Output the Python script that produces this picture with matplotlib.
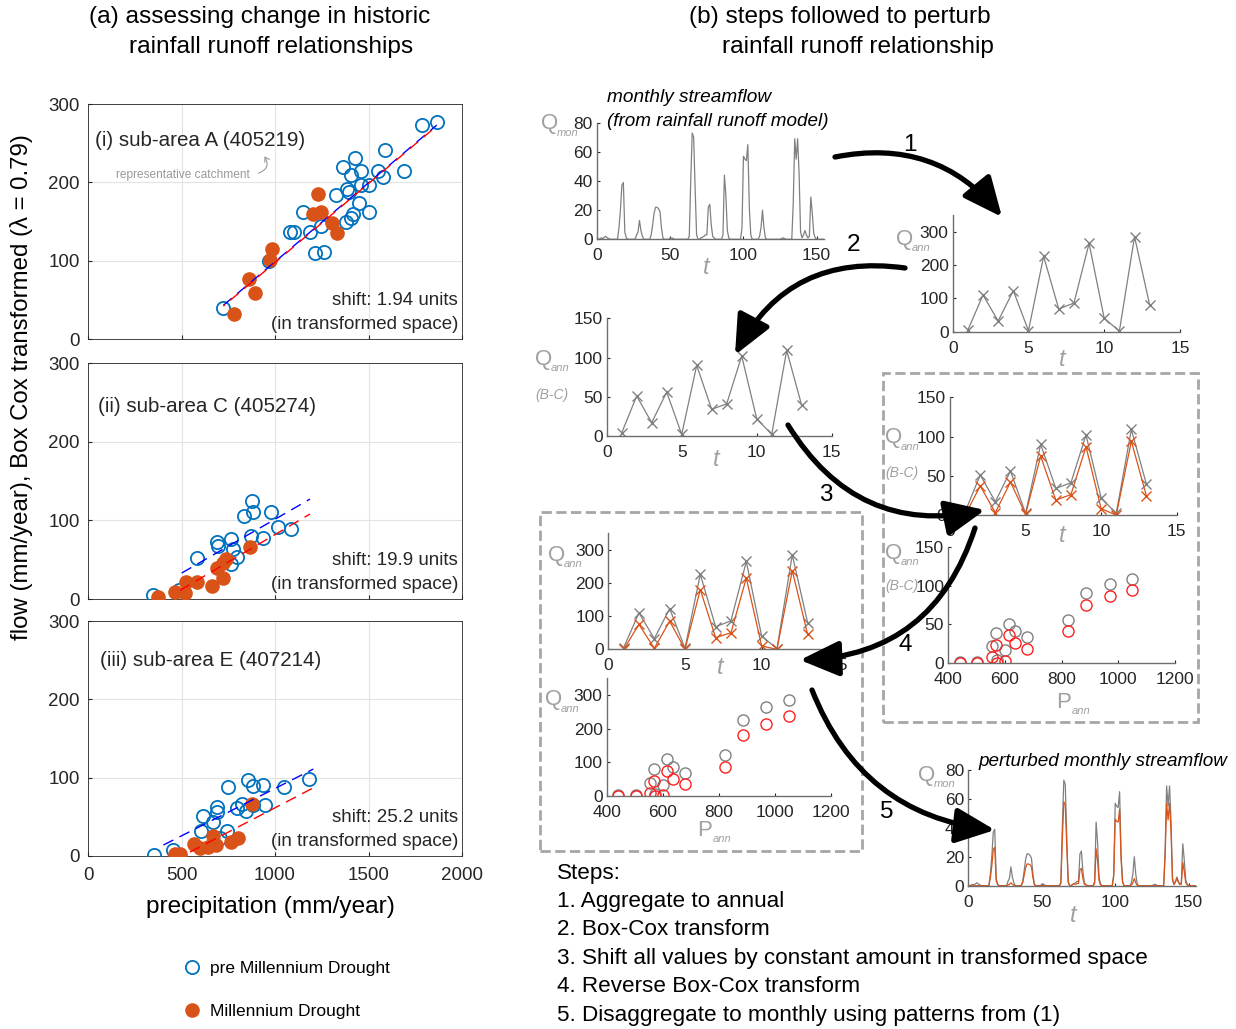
import matplotlib
matplotlib.use('Agg')
import matplotlib.pyplot as plt
from matplotlib.patches import FancyArrowPatch, Rectangle

plt.rcParams['font.family'] = ['Liberation Sans', 'DejaVu Sans']

# ---------------- data: left panels (P, Q transformed) ----------------
a_pre_p = [1865, 1784, 1588, 1430, 1366, 1405, 1460, 1549, 1579, 1692, 1501, 1460, 1383, 1397,
           1326, 1451, 1501, 1419, 1405, 1378, 1151, 1244, 1187, 1080, 1102, 1214, 1262, 970, 724]
a_pre_q = [277, 273, 241, 231, 219, 209, 214, 214, 207, 214, 197, 196, 192, 188,
           184, 173, 162, 160, 155, 150, 162, 144, 137, 137, 137, 110, 111, 99, 40]
a_md_p = [1228, 1205, 1244, 1303, 1330, 986, 973, 861, 893, 782]
a_md_q = [185, 160, 162, 148, 135, 115, 101, 76, 59, 32]
a_fit_p = [724, 1865]
a_fit_pre = [43, 273]
a_fit_md = [42, 272]

c_pre_p = [875, 884, 836, 979, 1014, 1083, 937, 870, 765, 688, 693, 777, 795, 763, 581, 487, 346]
c_pre_q = [125, 111, 105, 111, 92, 89, 77, 80, 76, 73, 67, 64, 54, 45, 52, 11, 5]
c_md_p = [866, 736, 724, 688, 720, 661, 581, 524, 465, 519, 373]
c_md_q = [66, 51, 46, 39, 27, 16, 22, 22, 9, 7, 2]
c_fit_pre_p = [501, 1187]
c_fit_pre = [33, 127]
c_fit_md_p = [492, 1187]
c_fit_md = [11, 108]

e_pre_p = [1180, 1048, 857, 881, 937, 747, 947, 884, 825, 795, 845, 688, 691, 617, 667, 604, 742, 706, 456, 355]
e_pre_q = [98, 88, 97, 89, 91, 88, 65, 65, 66, 61, 57, 62, 56, 51, 43, 32, 32, 23, 8, 1]
e_md_p = [875, 804, 766, 667, 684, 643, 599, 568, 492, 465]
e_md_q = [67, 23, 18, 25, 14, 12, 10, 15, 2, 3]
e_fit_pre_p = [403, 1205]
e_fit_pre = [14, 111]
e_fit_md_p = [545, 1205]
e_fit_md = [5, 87]

panel_titles = ['(i) sub-area A (405219)', '(ii) sub-area C (405274)', '(iii) sub-area E (407214)']
panel_shifts = ['shift: 1.94 units', 'shift: 19.9 units', 'shift: 25.2 units']

# ---------------- data: right panels ----------------
q_monthly = [0, 0.5, 1, 0.5, 1.5, 2, 1, 0.5, 0, 0, 0, 0,
             0, 0, 8, 20, 37, 39, 5, 1, 0, 0, 0, 0,
             0, 0, 3, 5, 13, 6, 2, 0, 0, 0, 0, 0,
             3, 10, 18, 22, 22, 21, 19, 8, 1, 0, 0, 0,
             0, 1, 1, 0.5, 0, 0, 0, 0, 0, 0, 0, 0,
             0, 0, 2, 40, 73, 70, 35, 3, 0, 0, 1, 1.5,
             2, 3, 3, 22, 24, 10, 2, 1, 0, 0, 0, 0,
             0, 3, 44, 30, 6, 1, 0, 0, 0, 0, 0, 0,
             0, 0, 8, 57, 55, 54, 65, 22, 3, 0, 0, 0,
             0, 0, 2, 8, 20, 8, 1, 0, 0, 0, 0, 0,
             0, 0, 0, 0, 0, 0.5, 1, 0.5, 0, 0, 0, 0,
             0, 25, 69, 55, 69, 45, 5, 1, 3, 6, 3, 1,
             2, 29, 18, 4, 1, 0, 0, 0, 0, 0, 0, 0]
q_monthly_pert = [0, 0, 0, 0, 0, 0, 0, 0, 0, 0, 0, 0,
                  0, 0, 5.4, 13.6, 25, 26.5, 3.4, 0.7, 0, 0, 0, 0,
                  0, 0, 0.5, 1, 2, 1, 0.3, 0, 0, 0, 0, 0,
                  2, 7, 12.4, 15, 15, 14.5, 13, 5.5, 0.7, 0, 0, 0,
                  0, 0, 0, 0, 0, 0, 0, 0, 0, 0, 0, 0,
                  0, 0, 1.6, 32, 58, 56, 28, 2.4, 0, 0, 0.8, 1.2,
                  1, 1.5, 1.5, 11, 12, 5, 1, 0.5, 0, 0, 0, 0,
                  0, 1.7, 25.5, 17.4, 3.5, 0.6, 0, 0, 0, 0, 0, 0,
                  0, 0, 6.5, 46, 44.5, 44, 53, 18, 2.4, 0, 0, 0,
                  0, 0, 0.5, 2, 5, 2, 0.3, 0, 0, 0, 0, 0,
                  0, 0, 0, 0, 0, 0, 0, 0, 0, 0, 0, 0,
                  0, 21, 57, 45.5, 57, 37, 4, 0.8, 2.5, 5, 2.5, 0.8,
                  1, 16, 10, 2.2, 0.6, 0, 0, 0, 0, 0, 0, 0]
months = list(range(1, len(q_monthly) + 1))

years = list(range(1, 14))
q_annual = [5, 110, 32, 123, 3, 226, 68, 86, 265, 40, 2, 285, 80]
q_annual_pert = [0, 75, 3, 85, 0, 180, 35, 50, 215, 10, 0, 237, 45]
q_bc = [4, 51, 17, 56, 2, 90, 34, 41, 102, 22, 2, 109, 39]
q_bc_shift = [0, 37, 3, 42, 1, 75, 19, 26, 87, 8, 0, 94, 24]
p_annual = [572, 615, 600, 824, 503, 886, 678, 635, 970, 553, 440, 1050, 569]

steps = ['Steps:',
         '1. Aggregate to annual',
         '2. Box-Cox transform',
         '3. Shift all values by constant amount in transformed space',
         '4. Reverse Box-Cox transform',
         '5. Disaggregate to monthly using patterns from (1)']

BLUE = '#0072BD'
ORANGE = '#D95319'
GREY = '#808080'
LGREY = '#A6A6A6'
TXT = '#262626'

W, H = 1236, 1029
fig = plt.figure(figsize=(W / 100, H / 100), dpi=100)


def px_axes(l, t, r, b):
    return fig.add_axes([l / W, 1 - b / H, (r - l) / W, (b - t) / H])


def ftext(x, y, s, **kw):
    return fig.text(x / W, 1 - y / H, s, **kw)


# ---------------- left column ----------------
left_data = [
    (a_pre_p, a_pre_q, a_md_p, a_md_q, a_fit_p, a_fit_pre, a_fit_p, a_fit_md),
    (c_pre_p, c_pre_q, c_md_p, c_md_q, c_fit_pre_p, c_fit_pre, c_fit_md_p, c_fit_md),
    (e_pre_p, e_pre_q, e_md_p, e_md_q, e_fit_pre_p, e_fit_pre, e_fit_md_p, e_fit_md),
]
left_boxes = [(104, 339), (363, 599), (621, 856)]
handles = None
for i, (box, d) in enumerate(zip(left_boxes, left_data)):
    ax = px_axes(88, box[0], 462, box[1])
    pre_p, pre_q, md_p, md_q, fpx, fpy, fmx, fmy = d
    h1, = ax.plot(pre_p, pre_q, 'o', mfc='none', mec=BLUE, mew=1.3, ms=9.5, ls='none', zorder=3)
    h2, = ax.plot(md_p, md_q, 'o', mfc=ORANGE, mec=ORANGE, ms=9.5, ls='none', zorder=3)
    ax.plot(fpx, fpy, color='#0000FF', lw=1, linestyle=(0, (8, 5)), zorder=4)
    # in panel (i) the two fits overlap, so offset the red dashes into the blue gaps
    red_ls = (6.5, (8, 5)) if i == 0 else (0, (8, 5))
    ax.plot(fmx, fmy, color='#FF0000', lw=1, linestyle=red_ls, zorder=4)
    if handles is None:
        handles = [h1, h2]
    ax.set_xlim(0, 2000)
    ax.set_ylim(0, 300)
    ax.set_xticks([0, 500, 1000, 1500, 2000])
    ax.set_yticks([0, 100, 200, 300])
    ax.grid(True, color='#E3E3E3', lw=0.8)
    ax.set_axisbelow(True)
    for s in ax.spines.values():
        s.set_color(TXT)
        s.set_linewidth(0.6)
    ax.tick_params(direction='in', length=3, labelsize=13.5, colors=TXT, pad=6)
    ax.tick_params(axis='x', pad=8)
    if i < 2:
        ax.tick_params(labelbottom=False)
    ax.text(0.02 + 0.006 * i, [0.843, 0.814, 0.834][i], panel_titles[i], transform=ax.transAxes,
            fontsize=14.8, va='center', ha='left', color=TXT)
    ax.text(0.989, 0.162, panel_shifts[i], transform=ax.transAxes, fontsize=13.5,
            va='center', ha='right', color=TXT)
    ax.text(0.989, 0.06, '(in transformed space)', transform=ax.transAxes, fontsize=13.5,
            va='center', ha='right', color=TXT)

ftext(116, 175, 'representative catchment', fontsize=8.6, color='#999999', va='center', ha='left')
fig.add_artist(FancyArrowPatch((256 / W, 1 - 174 / H), (263 / W, 1 - 154 / H),
                               transform=fig.transFigure, connectionstyle='arc3,rad=0.7',
                               arrowstyle='->,head_length=3,head_width=2', color='#999999', lw=0.8))

ftext(22, 387, 'flow (mm/year), Box Cox transformed (\u03bb = 0.79)', rotation=90,
      fontsize=17.3, ha='center', va='center', color='black')
ftext(270, 907, 'precipitation (mm/year)', fontsize=17.6, ha='center', va='center')
ftext(260, 17, '(a) assessing change in historic', fontsize=17.6, ha='center', va='center')
ftext(271, 47, 'rainfall runoff relationships', fontsize=17.6, ha='center', va='center')
ftext(840, 17, '(b) steps followed to perturb', fontsize=17.6, ha='center', va='center')
ftext(858, 47, 'rainfall runoff relationship', fontsize=17.6, ha='center', va='center')

fig.legend(handles, ['pre Millennium Drought', 'Millennium Drought'], loc='center left',
           bbox_to_anchor=(166 / W, 1 - 990 / H), frameon=False, fontsize=12.5,
           labelspacing=1.65, handlelength=1.2, handletextpad=0.45, numpoints=1)


# ---------------- right column ----------------
def small_axes(l, t, r, b, xlim, ylim, xticks, yticks):
    ax = px_axes(l, t, r, b)
    ax.set_xlim(*xlim)
    ax.set_ylim(*ylim)
    ax.set_xticks(xticks)
    ax.set_yticks(yticks)
    for s in ['top', 'right']:
        ax.spines[s].set_visible(False)
    for s in ['left', 'bottom']:
        ax.spines[s].set_color('#6E6E6E')
        ax.spines[s].set_linewidth(1.0)
    ax.tick_params(direction='in', length=2, labelsize=12.5, colors=TXT, pad=3)
    ax.tick_params(axis='x', pad=6.5)
    ax.patch.set_alpha(0)
    return ax


def qlabel(x, y, sub, big='Q'):
    ftext(x, y, big, fontsize=16, color='#A0A0A0', ha='left', va='center')
    ftext(x + 16, y + 9, sub, fontsize=8, color='#A0A0A0', ha='left', va='center', style='italic')


def tlabel(x, y):
    ftext(x, y, 't', fontsize=17, color='#A0A0A0', ha='center', va='center', style='italic')


def bclabel(x, y):
    ftext(x, y, '(B-C)', fontsize=10, color='#A0A0A0', ha='left', va='center', style='italic')


# R1 monthly streamflow
ax = small_axes(597, 122.7, 824, 239.3, (0, 155), (0, 80), [0, 50, 100, 150], [0, 20, 40, 60, 80])
ax.plot(months, q_monthly, color=GREY, lw=0.9)
qlabel(541, 124, 'mon')
tlabel(706, 268)
ftext(607, 97, 'monthly streamflow', fontsize=13.7, style='italic', va='center', ha='left')
ftext(607, 121, '(from rainfall runoff model)', fontsize=13.6, style='italic', va='center', ha='left')

# R2 annual
ax = small_axes(952.7, 215, 1180, 331.7, (0, 15), (0, 350), [0, 5, 10, 15], [0, 100, 200, 300])
ax.plot(years, q_annual, color=GREY, lw=0.9, marker='x', ms=7, mew=1)
qlabel(896, 239, 'ann')
tlabel(1062, 359)

# R3 Box-Cox annual
ax = small_axes(606.7, 318.3, 831.7, 436, (0, 15), (0, 150), [0, 5, 10, 15], [0, 50, 100, 150])
ax.plot(years, q_bc, color=GREY, lw=0.9, marker='x', ms=7, mew=1)
qlabel(535, 359, 'ann')
bclabel(535, 395)
tlabel(716, 460)

# R4 shifted in transformed space
ax = small_axes(950, 397.3, 1176.7, 515, (0, 15), (0, 150), [0, 5, 10, 15], [0, 50, 100, 150])
ax.plot(years, q_bc, color=GREY, lw=0.9, marker='x', ms=7, mew=1)
ax.plot(years, q_bc_shift, color=ORANGE, lw=0.9, marker='x', ms=7, mew=1)
qlabel(885, 438, 'ann')
bclabel(885, 473)
tlabel(1062, 536)

# R5 scatter transformed
ax = small_axes(948.3, 546.7, 1175, 663.3, (400, 1200), (0, 150), [400, 600, 800, 1000, 1200],
                [0, 50, 100, 150])
ax.plot(p_annual, q_bc, 'o', mfc='none', mec=GREY, ms=8, mew=1, ls='none')
ax.plot(p_annual, q_bc_shift, 'o', mfc='none', mec='#FF2020', ms=8, mew=1, ls='none')
qlabel(885, 553, 'ann')
bclabel(885, 586)
qlabel(1056, 702, 'ann', big='P')

# R6 reverse transform annual
ax = small_axes(608.3, 533.3, 838.3, 649.3, (0, 15), (0, 350), [0, 5, 10, 15], [0, 100, 200, 300])
ax.plot(years, q_annual, color=GREY, lw=0.9, marker='x', ms=7, mew=1)
ax.plot(years, q_annual_pert, color=ORANGE, lw=0.9, marker='x', ms=7, mew=1)
qlabel(548, 555, 'ann')
tlabel(720, 668)

# R7 scatter untransformed
ax = small_axes(606.7, 678.3, 830.7, 796, (400, 1200), (0, 350), [400, 600, 800, 1000, 1200],
                [0, 100, 200, 300])
ax.plot(p_annual, q_annual, 'o', mfc='none', mec=GREY, ms=8, mew=1, ls='none')
ax.plot(p_annual, q_annual_pert, 'o', mfc='none', mec='#FF2020', ms=8, mew=1, ls='none')
qlabel(545, 700, 'ann')
qlabel(697, 830, 'ann', big='P')

# R8 perturbed monthly
ax = small_axes(968.3, 770, 1196, 885.7, (0, 155), (0, 80), [0, 50, 100, 150], [0, 20, 40, 60, 80])
ax.plot(months, q_monthly, color=GREY, lw=0.9)
ax.plot(months, q_monthly_pert, color=ORANGE, lw=0.9)
qlabel(918, 775, 'mon')
tlabel(1073, 916)
ftext(978, 762, 'perturbed monthly streamflow', fontsize=13.6, style='italic', va='center', ha='left')

# dashed boxes
for (l, t, r, b) in [(883, 373, 1198, 722), (540, 512, 862, 851)]:
    fig.add_artist(Rectangle((l / W, 1 - b / H), (r - l) / W, (b - t) / H, transform=fig.transFigure,
                             fill=False, ec=LGREY, lw=2, ls='--', zorder=0))

# step arrows
arrows = [((835, 157), (1002, 217), -0.3, '1', (910, 145)),
          ((905, 268), (735, 355), 0.35, '2', (853, 245)),
          ((788, 425), (985, 510), 0.35, '3', (826, 495)),
          ((975, 528), (800, 660), -0.35, '4', (905, 645)),
          ((812, 690), (995, 830), 0.3, '5', (887, 812))]
for a, b, rad, lab, lp in arrows:
    fig.add_artist(FancyArrowPatch((a[0] / W, 1 - a[1] / H), (b[0] / W, 1 - b[1] / H),
                                   transform=fig.transFigure, connectionstyle='arc3,rad=%s' % rad,
                                   arrowstyle='-|>,head_length=0.6,head_width=0.27', mutation_scale=40,
                                   color='black', lw=3.8, shrinkA=0, shrinkB=0, zorder=5))
    ftext(lp[0], lp[1], lab, fontsize=17.5, ha='center', va='center')

for k, s in enumerate(steps):
    ftext(557, 873 + 28.4 * k, s, fontsize=16.2, ha='left', va='center')

fig.savefig('out.png', dpi=100)
